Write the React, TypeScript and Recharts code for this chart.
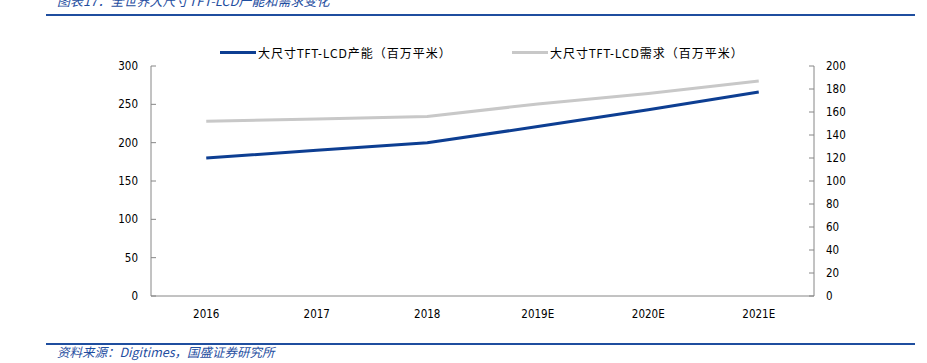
import React from 'react';
import { LineChart, Line, XAxis, YAxis, Legend } from 'recharts';

const years = ['2016', '2017', '2018', '2019E', '2020E', '2021E'];
const capacity = [180, 190, 200, 221, 243, 266];
const demand = [152, 154, 156, 167, 176, 187];
const leftTicks = [0, 50, 100, 150, 200, 250, 300];
const rightTicks = [0, 20, 40, 60, 80, 100, 120, 140, 160, 180, 200];
const boundaryTicks = [0, 1, 2, 3, 4, 5, 6];

const capacityName = '大尺寸TFT-LCD产能（百万平米）';
const demandName = '大尺寸TFT-LCD需求（百万平米）';
const titleText = '图表17：全世界大尺寸TFT-LCD产能和需求变化';
const sourceText = '资料来源：Digitimes，国盛证券研究所';

const data = years.map((year, i) => ({ year, capacity: capacity[i], demand: demand[i] }));

const BLUE = '#0D3E92';
const GRAY = '#C8C8C8';
const AXIS = '#868686';
const BRAND = '#1F4E9F';
const tickFont = { fontFamily: "'DejaVu Sans Condensed', 'DejaVu Sans', sans-serif", fontSize: 11.5, fill: '#000' };
const legendFont = "'DejaVu Sans Condensed', 'Noto Sans CJK SC', sans-serif";

const LegendContent = (props: any) => {
  const payload = props.payload || [];
  const lefts = [220, 512];
  return (
    <div style={{ position: 'relative', height: 16, width: 927 }}>
      {payload.map((p: any, i: number) => (
        <div
          key={i}
          style={{ position: 'absolute', left: lefts[i], top: 0, display: 'flex', alignItems: 'center', height: 16, whiteSpace: 'nowrap' }}
        >
          <span style={{ display: 'inline-block', width: 36, height: 3, background: p.color }} />
          <span style={{ marginLeft: 2, fontFamily: legendFont, fontSize: 12, letterSpacing: 1, color: '#000' }}>{p.value}</span>
        </div>
      ))}
    </div>
  );
};

export default function App() {
  return (
    <div style={{ position: 'absolute', left: 0, top: 0, width: 927, height: 363, background: '#fff', overflow: 'hidden' }}>
      <div
        style={{
          position: 'absolute', left: 57, top: -6, fontSize: 13, lineHeight: '13px', fontStyle: 'italic',
          color: BRAND, fontFamily: "'Noto Sans CJK SC', 'DejaVu Sans', sans-serif", whiteSpace: 'nowrap',
        }}
      >
        {titleText}
      </div>
      <div style={{ position: 'absolute', left: 46, top: 14, width: 869, height: 2, background: BRAND }} />
      <div style={{ position: 'absolute', left: 0, top: 0 }}>
        <LineChart width={927} height={330} data={data} margin={{ top: 66, right: 73, bottom: 4, left: 100 }}>
          <XAxis
            xAxisId="grid"
            type="number"
            domain={[0, 6]}
            ticks={boundaryTicks}
            allowDataOverflow
            tick={false}
            tickSize={-5}
            axisLine={false}
            tickLine={{ stroke: AXIS }}
            height={0}
          />
          <XAxis
            dataKey="year"
            scale="band"
            tickLine={false}
            axisLine={{ stroke: AXIS }}
            tick={tickFont}
            tickSize={6}
            tickMargin={8}
            height={30}
            interval={0}
          />
          <YAxis
            yAxisId="left"
            orientation="left"
            domain={[0, 300]}
            ticks={leftTicks}
            width={51}
            tickSize={-5}
            tickMargin={18}
            axisLine={{ stroke: AXIS }}
            tickLine={{ stroke: AXIS }}
            tick={tickFont}
            interval={0}
          />
          <YAxis
            yAxisId="right"
            orientation="right"
            domain={[0, 200]}
            ticks={rightTicks}
            width={40}
            tickSize={-5}
            tickMargin={17}
            axisLine={{ stroke: AXIS }}
            tickLine={{ stroke: AXIS }}
            tick={tickFont}
            interval={0}
          />
          <Legend
            verticalAlign="middle"
            align="center"
            layout="horizontal"
            wrapperStyle={{ top: 44, left: 0, width: 927 }}
            content={<LegendContent />}
          />
          <Line
            yAxisId="left"
            dataKey="capacity"
            name={capacityName}
            stroke={BLUE}
            strokeWidth={3}
            dot={false}
            activeDot={false}
            isAnimationActive={false}
          />
          <Line
            yAxisId="right"
            dataKey="demand"
            name={demandName}
            stroke={GRAY}
            strokeWidth={3}
            dot={false}
            activeDot={false}
            isAnimationActive={false}
          />
        </LineChart>
      </div>
      <div style={{ position: 'absolute', left: 46, top: 343, width: 869, height: 2, background: BRAND }} />
      <div
        style={{
          position: 'absolute', left: 57, top: 345, fontSize: 12.5, lineHeight: '13px', fontStyle: 'italic',
          color: BRAND, fontFamily: "'Noto Sans CJK SC', 'DejaVu Sans', sans-serif", whiteSpace: 'nowrap',
        }}
      >
        {sourceText}
      </div>
    </div>
  );
}
